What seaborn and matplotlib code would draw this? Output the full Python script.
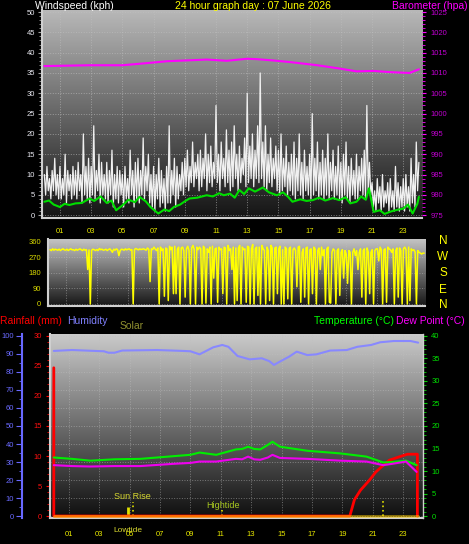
import numpy as np
import matplotlib
matplotlib.use("Agg")
import matplotlib.pyplot as plt
from matplotlib.colors import LinearSegmentedColormap
from matplotlib.ticker import MultipleLocator
import seaborn as sns

# ---- data ----
hour_ticks = [1, 3, 5, 7, 9, 11, 13, 15, 17, 19, 21, 23]
hour_labels = ["01", "03", "05", "07", "09", "11", "13", "15", "17", "19", "21", "23"]

# wind gusts, 5 minute steps from 00:00
gust_kph = [
    10, 5, 12, 6, 9, 4, 11, 6, 14, 5, 10, 4,
    12, 4, 9, 5, 15, 3, 11, 6, 10, 4, 12, 5,
    11, 4, 13, 6, 10, 3, 20, 5, 12, 4, 14, 3,
    12, 5, 22, 4, 11, 6, 15, 3, 13, 5, 10, 4,
    13, 3, 11, 5, 16, 2, 10, 4, 12, 3, 11, 5,
    10, 2, 12, 4, 9, 3, 16, 5, 11, 2, 13, 4,
    14, 3, 11, 5, 19, 4, 12, 6, 15, 3, 10, 2,
    12, 1, 10, 4, 14, 2, 11, 3, 9, 1, 12, 3,
    22, 3, 11, 5, 14, 2, 12, 4, 10, 6, 13, 5,
    14, 7, 16, 6, 12, 8, 18, 7, 13, 9, 15, 6,
    16, 7, 14, 9, 20, 6, 15, 8, 17, 7, 13, 9,
    27, 8, 15, 6, 18, 9, 14, 7, 21, 8, 16, 6,
    18, 7, 22, 9, 15, 6, 17, 8, 14, 10, 19, 7,
    30, 8, 17, 9, 20, 7, 16, 9, 22, 8, 35, 9,
    18, 7, 22, 6, 15, 8, 19, 7, 14, 9, 17, 6,
    16, 5, 20, 6, 14, 7, 17, 5, 13, 6, 15, 5,
    18, 4, 14, 6, 20, 5, 13, 4, 16, 6, 12, 5,
    15, 4, 25, 5, 14, 6, 18, 4, 13, 5, 16, 4,
    14, 5, 20, 4, 13, 6, 16, 4, 12, 5, 17, 4,
    13, 3, 15, 5, 18, 4, 12, 3, 14, 5, 11, 4,
    15, 4, 12, 6, 14, 5, 16, 4, 27, 6, 13, 5,
    8, 2, 6, 1, 9, 3, 7, 1, 10, 2, 6, 3,
    8, 1, 9, 2, 6, 1, 12, 2, 8, 1, 7, 2,
    9, 1, 10, 2, 7, 1, 14, 3, 10, 2, 18, 6,
    13,
]
gust_hours = np.arange(len(gust_kph)) / 12.0

avg_hours = [0.0, 0.3, 0.6, 1.0, 1.3, 1.6, 2.0, 2.4, 2.9, 3.2, 3.6, 4.0, 4.3, 4.6,
             5.0, 5.4, 5.8, 6.1, 6.5, 6.8, 7.3, 7.7, 8.0, 8.3, 8.7, 9.0, 9.3, 9.8,
             10.4, 10.8, 11.2, 11.5, 11.9, 12.2, 12.5, 12.8, 13.1, 13.5, 14.0, 14.4,
             14.9, 15.3, 15.6, 15.9, 16.4, 16.8, 17.2, 17.6, 18.0, 18.5, 18.9, 19.3,
             19.6, 20.0, 20.3, 20.6, 20.8, 21.1, 21.5, 21.8, 22.2, 22.6, 23.0, 23.3,
             23.6, 23.9, 24.0]
avg_kph = [3.3, 3.6, 2.6, 2.0, 2.8, 2.5, 2.9, 3.0, 4.1, 3.5, 4.6, 3.0, 3.6, 1.2,
           2.4, 3.8, 3.2, 4.5, 3.4, 2.0, 0.4, 1.4, 1.0, 2.0, 2.6, 3.4, 4.1, 4.3,
           4.9, 4.6, 5.4, 4.9, 5.3, 4.3, 6.2, 5.2, 6.6, 5.8, 6.8, 5.6,
           4.9, 5.6, 4.6, 3.3, 3.9, 3.5, 3.7, 4.3, 3.6, 4.2, 3.7, 4.4,
           2.9, 3.3, 4.6, 3.8, 6.6, 0.8, 1.2, 0.3, 0.9, 1.3, 1.6, 2.6,
           0.4, 2.8, 4.5]

baro_hours = [0.0, 1.5, 2.9, 5.0, 6.5, 7.9, 9.2, 10.4, 11.7, 13.0, 13.6, 14.6,
              15.7, 17.5, 18.9, 20.0, 21.1, 22.2, 23.4, 24.0]
baro_hpa = [1011.7, 1011.8, 1011.9, 1011.9, 1012.4, 1012.9, 1013.1, 1013.3, 1013.0,
            1013.5, 1013.4, 1013.1, 1012.7, 1011.9, 1011.1, 1010.4, 1010.5, 1010.2,
            1010.0, 1010.9]

# wind direction, 5 minute steps from 00:00
wind_dir = [
    315, 310, 320, 312, 318, 315, 312, 318, 310, 316, 320, 314,
    312, 318, 310, 316, 320, 314, 315, 310, 318, 312, 316, 320,
    315, 310, 318, 312, 316, 200, 314, 0, 312, 318, 315, 310,
    316, 310, 322, 315, 318, 312, 314, 318, 310, 316, 320, 312,
    300, 318, 312, 320, 315, 280, 310, 318, 316, 312, 320, 314,
    318, 320, 312, 316, 0, 316, 322, 318, 314, 320, 316, 318,
    320, 316, 312, 325, 318, 130, 320, 316, 330, 318, 310, 325,
    0, 330, 310, 320, 45, 325, 320, 20, 335, 315, 330, 60,
    335, 60, 318, 330, 0, 325, 330, 310, 40, 320, 335, 310,
    0, 325, 340, 315, 0, 330, 315, 330, 320, 0, 335, 325,
    5, 320, 300, 330, 0, 335, 150, 320, 325, 10, 330, 315,
    320, 60, 330, 325, 0, 340, 310, 320, 200, 330, 0, 325,
    20, 325, 340, 0, 330, 315, 320, 10, 335, 330, 0, 320,
    345, 0, 320, 330, 50, 330, 0, 340, 320, 310, 0, 330,
    310, 20, 340, 325, 0, 325, 330, 60, 320, 335, 0, 315,
    0, 330, 320, 30, 320, 330, 0, 315, 325, 310, 100, 330,
    335, 10, 300, 320, 40, 325, 330, 0, 315, 320, 60, 330,
    320, 0, 310, 325, 200, 330, 280, 315, 0, 320, 330, 10,
    5, 300, 320, 310, 0, 310, 320, 50, 300, 315, 150, 310,
    290, 120, 310, 300, 0, 300, 320, 280, 310, 200, 300, 320,
    40, 310, 320, 0, 325, 300, 60, 300, 315, 0, 310, 320,
    320, 250, 330, 315, 0, 315, 320, 10, 330, 320, 315, 300,
    320, 0, 310, 325, 40, 325, 310, 0, 320, 330, 315, 0,
    330, 20, 320, 310, 315, 300, 0, 310, 300, 295, 290, 295,
    295,
]
dir_hours = np.arange(len(wind_dir)) / 12.0

hum_hours = [0.0, 1.2, 3.3, 3.6, 4.0, 4.5, 6.8, 8.5, 9.0, 9.6, 10.5, 11.1, 11.5,
             12.1, 12.9, 13.7, 14.2, 14.5, 14.9, 15.5, 16.0, 16.7, 17.3, 18.2,
             19.3, 20.0, 20.9, 21.5, 22.4, 23.5, 24.0]
humidity = [91.7, 92.2, 91.5, 90.7, 90.7, 91.9, 92.2, 91.7, 91.5, 89.8, 93.7, 95.0,
            94.0, 88.9, 87.0, 87.6, 86.0, 83.9, 85.8, 88.5, 91.3, 89.4, 89.8, 91.9,
            92.2, 94.0, 95.0, 96.5, 97.2, 97.2, 96.3]

temp_hours = [0.0, 1.2, 2.4, 4.0, 5.7, 7.9, 9.0, 9.6, 10.7, 12.0, 12.4, 12.8, 13.2,
              13.6, 14.1, 14.4, 14.9, 16.7, 18.9, 20.6, 21.7, 22.3, 23.2, 23.9]
temp_c = [13.0, 12.7, 12.3, 12.6, 12.7, 13.3, 13.6, 14.1, 13.6, 14.8, 14.9, 15.4,
          14.9, 14.8, 15.8, 16.5, 15.4, 14.5, 13.9, 13.2, 11.9, 12.0, 12.3, 11.3]
dew_c = [11.3, 11.1, 11.0, 11.1, 11.1, 11.6, 11.8, 12.1, 12.1, 12.7, 12.6, 13.2,
         12.6, 12.5, 13.0, 13.6, 12.9, 12.7, 12.3, 12.1, 11.3, 11.6, 12.1, 9.8]

rain_hours = [0.0, 0.0, 19.5, 19.8, 20.2, 20.8, 21.2, 21.5, 22.1, 22.8, 23.3, 23.95, 23.95]
rain_mm = [24.7, 0.0, 0.0, 2.7, 4.3, 6.0, 7.3, 8.0, 9.3, 9.9, 10.3, 10.3, 0.0]

solar_hours = [0.0, 24.0]
solar_wm2 = [0.0, 0.0]

# ---- figure ----
sns.set_style("dark", {"axes.facecolor": "black", "figure.facecolor": "black"})
plt.rcParams["font.family"] = ["Liberation Sans", "DejaVu Sans"]

W, H = 469, 544
fig = plt.figure(figsize=(W / 100, H / 100), dpi=100, facecolor="black")


def rect(x0, y0, x1, y1):
    return [x0 / W, 1 - y1 / H, (x1 - x0) / W, (y1 - y0) / H]


def ftext(x, y, s, **kw):
    fig.text(x / W, 1 - y / H, s, va="center", **kw)


def gradient(ax, top, bottom):
    cmap = LinearSegmentedColormap.from_list("bg", [top, bottom])
    x0, x1 = ax.get_xlim()
    y0, y1 = ax.get_ylim()
    ax.imshow(np.linspace(0, 1, 256).reshape(-1, 1), cmap=cmap, aspect="auto",
              extent=(x0, x1, y0, y1), zorder=0, interpolation="bilinear")
    ax.set_xlim(x0, x1)
    ax.set_ylim(y0, y1)


border = "#d0d0d0"
yellow = "#e8e800"
tick_size = 5.5

# top panel: wind speed + barometer
ax1 = fig.add_axes(rect(42, 10, 422, 218))
ax1.set_xlim(-0.15, 24.2)
ax1.set_ylim(-0.7, 50.5)
gradient(ax1, "#b8b8b8", "#141414")
sns.lineplot(x=gust_hours, y=gust_kph, ax=ax1, color="#f0f0f0", lw=0.9,
             estimator=None, legend=False, zorder=3)
sns.lineplot(x=avg_hours, y=avg_kph, ax=ax1, color="#00dd00", lw=1.5,
             estimator=None, legend=False, zorder=4)
ax1.set_xticks(hour_ticks, hour_labels)
ax1.xaxis.set_minor_locator(MultipleLocator(1))
ax1.yaxis.set_major_locator(MultipleLocator(5))
ax1.yaxis.set_minor_locator(MultipleLocator(1))
ax1.tick_params(axis="x", colors=border, labelcolor=yellow, labelsize=tick_size,
                length=3, pad=4, direction="out")
ax1.tick_params(axis="x", which="minor", colors="#a0a0a0", length=2)
ax1.tick_params(axis="y", which="both", colors="#a0a0a0", labelcolor="#e8e8f0",
                labelsize=tick_size, length=3, pad=2)
ax1.tick_params(axis="y", which="minor", length=2)
ax1.grid(True, which="major", color="#c0c0c0", ls=":", lw=0.7, alpha=0.6)
ax1.set_xlabel("")
ax1.set_ylabel("")
for side in ["left", "bottom"]:
    ax1.spines[side].set_visible(True)
    ax1.spines[side].set_color(border)
    ax1.spines[side].set_linewidth(1.5)
for side in ["top", "right"]:
    ax1.spines[side].set_visible(False)

ax1b = ax1.twinx()
ax1b.set_ylim(974.3, 1025.5)
sns.lineplot(x=baro_hours, y=baro_hpa, ax=ax1b, color="#ff00ff", lw=1.5,
             estimator=None, legend=False)
ax1b.yaxis.set_major_locator(MultipleLocator(5))
ax1b.yaxis.set_minor_locator(MultipleLocator(1))
ax1b.tick_params(axis="y", which="both", colors="#ff00ff", labelcolor="#c000d0",
                 labelsize=tick_size, length=3, pad=3)
ax1b.tick_params(axis="y", which="minor", length=2)
ax1b.set_ylabel("")
for side in ax1b.spines:
    ax1b.spines[side].set_visible(False)

# middle panel: wind direction
ax2 = fig.add_axes(rect(48, 239, 425, 306))
ax2.set_xlim(-0.13, 24.05)
ax2.set_ylim(-11.6, 377)
gradient(ax2, "#c4c4c4", "#161616")
sns.lineplot(x=dir_hours, y=wind_dir, ax=ax2, color="#ffff00", lw=1.1,
             estimator=None, legend=False, zorder=3)
ax2.set_xticks(hour_ticks, [])
ax2.set_yticks([0, 90, 180, 270, 360])
ax2.yaxis.set_minor_locator(MultipleLocator(30))
ax2.tick_params(axis="x", length=0)
ax2.tick_params(axis="y", which="both", colors="#d0d000", labelcolor="#d8d800",
                labelsize=tick_size, length=3, pad=2)
ax2.tick_params(axis="y", which="minor", length=2)
ax2.grid(True, which="major", color="#c0c0c0", ls=":", lw=0.7, alpha=0.5)
ax2.set_ylabel("")
for side in ["left", "bottom"]:
    ax2.spines[side].set_visible(True)
    ax2.spines[side].set_color(border)
    ax2.spines[side].set_linewidth(1.5)
for side in ["top", "right"]:
    ax2.spines[side].set_visible(False)

for letter, y in zip(["N", "W", "S", "E", "N"], [241, 257, 273, 290, 305]):
    ftext(443, y, letter, color="#ffff00", fontsize=8.5, ha="center")

# bottom panel: humidity, rain, temperature, dew point
ax3 = fig.add_axes(rect(50, 334, 423, 518))
ax3.set_xlim(-0.25, 24.32)
ax3.set_ylim(-1.1, 101.1)
gradient(ax3, "#cacaca", "#0e0e0e")
sns.lineplot(x=hum_hours, y=humidity, ax=ax3, color="#8888ff", lw=1.5,
             estimator=None, legend=False, zorder=3)
ax3.set_xticks(hour_ticks, hour_labels)
ax3.xaxis.set_minor_locator(MultipleLocator(0.5))
ax3.yaxis.set_major_locator(MultipleLocator(10))
ax3.yaxis.set_minor_locator(MultipleLocator(5))
ax3.tick_params(axis="x", colors="#a0a0a0", labelcolor=yellow, labelsize=tick_size,
                length=3, pad=6)
ax3.tick_params(axis="x", which="minor", colors="#808080", length=2)
ax3.tick_params(axis="y", which="both", colors="#6868ff", labelcolor="#6a6aff",
                labelsize=tick_size, length=4, pad=2)
ax3.tick_params(axis="y", which="minor", length=2)
ax3.grid(True, which="major", color="#c0c0c0", ls=":", lw=0.7, alpha=0.5)
ax3.set_ylabel("")
ax3.spines["left"].set_visible(True)
ax3.spines["left"].set_position(("outward", 20))
ax3.spines["left"].set_color("#6868ff")
ax3.spines["left"].set_linewidth(1.5)
ax3.spines["bottom"].set_visible(True)
ax3.spines["bottom"].set_color(border)
ax3.spines["bottom"].set_linewidth(1.5)
for side in ["top", "right"]:
    ax3.spines[side].set_visible(False)

# tide / sun markers
ax3.vlines([5.2, 21.7], 0, [8.0, 8.9], colors="#e0e000", linestyles=":", lw=1.2, zorder=5)
ax3.vlines([11.06], 0, [3.3], colors="#e0e000", linestyles=":", lw=1.2, zorder=5)
ax3.vlines([4.9], 0, [5.0], colors="#e0e000", lw=2.0, zorder=5)
ax3.text(5.2, 10.7, "Sun Rise", color="#d8d830", fontsize=6.5, ha="center", va="center", zorder=6)
ax3.text(11.14, 6.1, "Hightide", color="#a8c820", fontsize=6.5, ha="center", va="center", zorder=6)

rax = ax3.twinx()
rax.set_ylim(-0.33, 30.33)
rax.yaxis.tick_left()
sns.lineplot(x=rain_hours, y=rain_mm, ax=rax, color="#ff0000", lw=2.0,
             estimator=None, sort=False, legend=False)
sns.lineplot(x=solar_hours, y=solar_wm2, ax=rax, color="#ffcc00", lw=2.0, alpha=0.55,
             estimator=None, legend=False)
rax.yaxis.set_major_locator(MultipleLocator(5))
rax.yaxis.set_minor_locator(MultipleLocator(1))
rax.tick_params(axis="y", which="both", colors="#ff0000", labelcolor="#ff1010",
                labelsize=tick_size, length=3, pad=3)
rax.tick_params(axis="y", which="minor", length=2)
rax.set_ylabel("")
for side in rax.spines:
    rax.spines[side].set_visible(False)
rax.spines["left"].set_visible(True)
rax.spines["left"].set_color(border)
rax.spines["left"].set_linewidth(1.5)

tax = ax3.twinx()
tax.set_ylim(-0.44, 40.44)
sns.lineplot(x=temp_hours, y=temp_c, ax=tax, color="#00ee00", lw=1.5,
             estimator=None, legend=False)
sns.lineplot(x=temp_hours, y=dew_c, ax=tax, color="#ee00ee", lw=1.5,
             estimator=None, legend=False)
tax.yaxis.set_major_locator(MultipleLocator(5))
tax.yaxis.set_minor_locator(MultipleLocator(1))
tax.tick_params(axis="y", which="both", colors="#00cc00", labelcolor="#00e000",
                labelsize=tick_size, length=3, pad=3)
tax.tick_params(axis="y", which="minor", length=2)
tax.set_ylabel("")
for side in tax.spines:
    tax.spines[side].set_visible(False)
tax.spines["right"].set_visible(True)
tax.spines["right"].set_color(border)
tax.spines["right"].set_linewidth(1.0)

# titles / legends as text
ftext(35, 6, "Windspeed (kph)", color="white", fontsize=7.5, ha="left")
ftext(253, 6, "24 hour graph day : 07 June 2026", color="#ffff00", fontsize=7.5, ha="center")
ftext(468, 6, "Barometer (hpa)", color="#ff00ff", fontsize=7.5, ha="right")
ftext(0, 321, "Rainfall (mm)", color="#ff0000", fontsize=7.5, ha="left")
ftext(67, 321, "Humidity", color="#8080ff", fontsize=7.5, ha="left")
ftext(120, 326, "Solar", color="#909030", fontsize=7.5, ha="left")
ftext(394, 321, "Temperature (°C)", color="#00ff00", fontsize=7.5, ha="right")
ftext(465, 321, "Dew Point (°C)", color="#ff00ff", fontsize=7.5, ha="right")
# the reference draws this label on top of the "05" tick label
ftext(128, 531, "Lowtide", color="#d8d830", fontsize=6.0, ha="center")

fig.savefig("out.png", dpi=100, facecolor="black")
